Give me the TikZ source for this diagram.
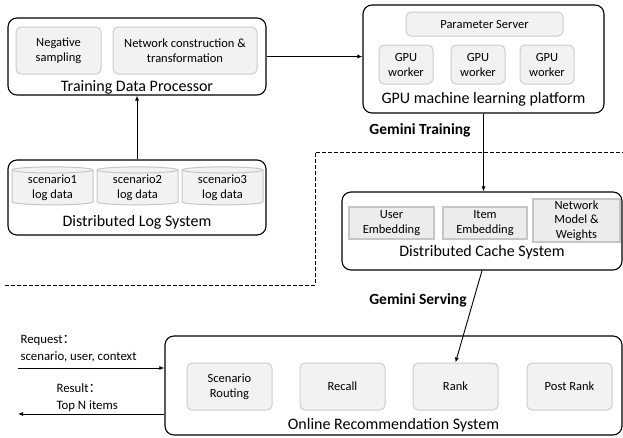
\documentclass[tikz,border=0pt]{standalone}
\usepackage{fontspec}
\setmainfont{Carlito}
\newfontfamily\cjk{Noto Sans CJK SC}
\usetikzlibrary{arrows.meta,shapes.geometric}
\begin{document}
\begin{tikzpicture}[x=1pt, y=-1pt,
  outer/.style={draw, line width=1.1pt, rounded corners=9pt, inner sep=0pt},
  part/.style={draw=gray!40, fill=gray!10, line width=1pt, rounded corners=5pt, align=center, inner sep=1pt, font=\fontsize{12.5}{15}\selectfont},
  cell/.style={draw=gray!45, fill=gray!15, line width=1.4pt, align=center, inner sep=1pt, font=\fontsize{12.5}{14.5}\selectfont},
  logdb/.style={cylinder, shape border rotate=90, aspect=0.12, draw=gray!45, fill=gray!10, line width=1pt, align=center, inner sep=1pt, font=\fontsize{12.5}{15}\selectfont},
  title/.style={font=\fontsize{16}{18}\selectfont},
  note/.style={font=\fontsize{12.8}{16.5}\selectfont, align=left, anchor=west},
  arr/.style={-{Latex[length=5pt,width=4pt]}, line width=0.9pt}
]
\useasboundingbox (0,0) rectangle (623,437);
% training side
\node[outer, minimum width=258pt, minimum height=77pt] (tdp) at (137,56.5) {};
\node[part, minimum width=85pt, minimum height=47pt] (neg) at (58.5,50.5) {Negative\\sampling};
\node[part, minimum width=144pt, minimum height=47pt] (net) at (185,50.5) {Network construction \&\\transformation};
\node[title] (tdplabel) at (137,87) {Training Data Processor};
\node[outer, minimum width=241pt, minimum height=108pt] (gpu) at (483.5,59) {};
\node[part, minimum width=157pt, minimum height=24pt] (ps) at (484.5,24) {Parameter Server};
\node[part, minimum width=54pt, minimum height=39pt] (w1) at (406,64.5) {GPU\\worker};
\node[part, minimum width=54pt, minimum height=39pt] (w2) at (478,64.5) {GPU\\worker};
\node[part, minimum width=54pt, minimum height=39pt] (w3) at (547,64.5) {GPU\\worker};
\node[title] (gpulabel) at (483.5,99) {GPU machine learning platform};
\node[outer, minimum width=258pt, minimum height=75pt] (dls) at (137,197.5) {};
\node[logdb, minimum width=81pt, minimum height=38pt] (log1) at (52.5,188) {scenario1\\log data};
\node[logdb, minimum width=81pt, minimum height=38pt] (log2) at (137.5,188) {scenario2\\log data};
\node[logdb, minimum width=81pt, minimum height=38pt] (log3) at (222.5,188) {scenario3\\log data};
\node[title] (dlslabel) at (137,222) {Distributed Log System};
\node[font=\fontsize{15.5}{18}\selectfont\bfseries] (training) at (420,130) {Gemini Training};
% serving side
\node[outer, minimum width=280pt, minimum height=78pt] (dcs) at (482,231) {};
\node[cell, minimum width=85pt, minimum height=32pt] (user) at (391.5,223) {User\\Embedding};
\node[cell, minimum width=84pt, minimum height=32pt] (item) at (485,223) {Item\\Embedding};
\node[cell, minimum width=87pt, minimum height=43pt] (model) at (576.5,220.5) {Network\\Model \&\\Weights};
\node[title] (dcslabel) at (482,252) {Distributed Cache System};
\node[font=\fontsize{15.5}{18}\selectfont\bfseries] (serving) at (418,300) {Gemini Serving};
\node[outer, minimum width=457pt, minimum height=99pt] (ors) at (393.5,385.5) {};
\node[part, minimum width=85pt, minimum height=47pt] (routing) at (229.5,386.5) {Scenario\\Routing};
\node[part, minimum width=85pt, minimum height=47pt] (recall) at (342.5,386.5) {Recall};
\node[part, minimum width=85pt, minimum height=47pt] (rank) at (455.5,386.5) {Rank};
\node[part, minimum width=85pt, minimum height=47pt] (postrank) at (569.5,386.5) {Post Rank};
\node[title] (orslabel) at (393.5,425) {Online Recommendation System};
\node[note] (request) at (17,348.5) {Request{\cjk ：}\\scenario, user, context};
\node[note] (result) at (53,397.5) {Result{\cjk ：}\\Top N items};
\coordinate (reqin) at (18,368);
\coordinate (resout) at (18,414);
% connectors
\draw[arr] (tdp.east) -- (tdp.east -| gpu.west);
\draw[arr] (dls.north) -- (tdp.south);
\draw[arr] (gpu.south) -- (gpu.south |- dcs.north);
\draw[arr] (dcs.south) -- (rank.north);
\draw[arr] (reqin) -- (reqin -| ors.west);
\draw[arr] (resout -| ors.west) -- (resout);
\draw[line width=0.9pt, dash pattern=on 4pt off 2pt] (5,285) -- (315,285) -- (315,152) -- (623,152);
\end{tikzpicture}
\end{document}
